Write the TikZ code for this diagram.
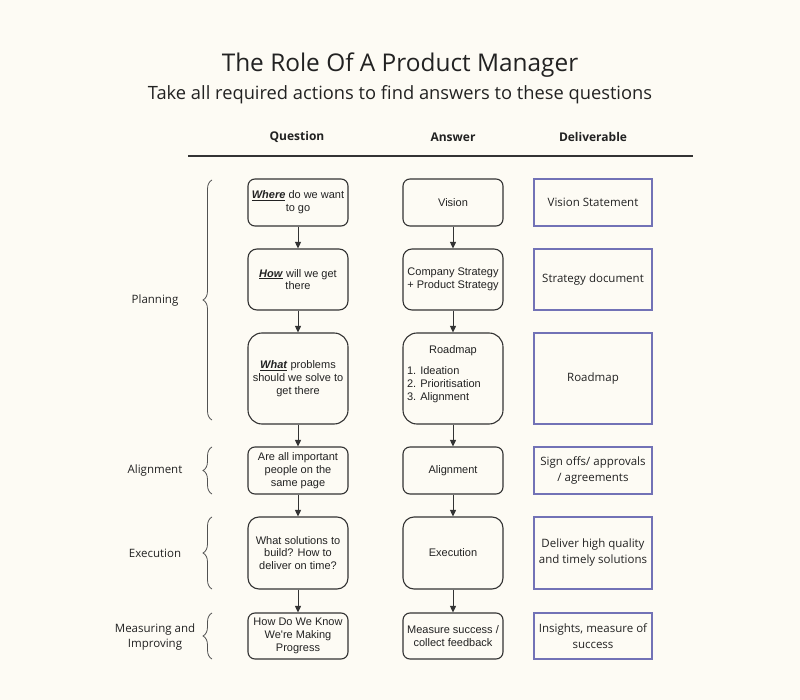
\documentclass[tikz,border=0pt]{standalone}
\usepackage{fontspec}
\setmainfont{Open Sans}
\newfontfamily\boxfont{Liberation Sans}
\usetikzlibrary{arrows.meta,decorations.pathreplacing}
\definecolor{pagecolor}{HTML}{FDFBF4}
\definecolor{inkcolor}{HTML}{222222}
\definecolor{linecolor}{HTML}{333333}
\definecolor{delivcolor}{HTML}{7272B6}
\newcommand{\keyword}[1]{\underline{\textbf{\textit{#1}}}}
\newcommand{\boxw}{100pt}
\newcommand{\delivw}{118pt}

\tikzset{
  qbox/.style={draw=linecolor, line width=1.1pt, rounded corners=7pt,
    minimum width=\boxw, inner sep=2pt, align=center, text=inkcolor,
    font=\boxfont\fontsize{11}{12.8}\selectfont},
  delivbox/.style={draw=delivcolor, line width=1.2pt,
    minimum width=\delivw, inner sep=2pt, align=center, text=inkcolor,
    font=\fontsize{11.5}{16}\selectfont},
  phaselabel/.style={align=center, text=inkcolor, font=\fontsize{11.5}{15}\selectfont},
  colhead/.style={text=inkcolor, font=\bfseries\fontsize{12}{14}\selectfont},
  flowarrow/.style={draw=linecolor, line width=0.9pt,
    -{Triangle[length=6.5pt,width=6pt]}},
  phasebrace/.style={draw=linecolor!85, line width=0.8pt, decorate,
    decoration={brace, amplitude=9pt, aspect=0.5}}
}

\begin{document}
\begin{tikzpicture}[x=1pt, y=-1pt]
\fill[pagecolor] (0,0) rectangle (800,700);
\useasboundingbox (0,0) rectangle (800,700);
% title
\node[anchor=base, text=inkcolor, font=\fontsize{24.4}{28}\selectfont] (title) at (400,72) {The Role Of A Product Manager};
\node[anchor=base, text=inkcolor, font=\fontsize{18.3}{21}\selectfont] (subtitle) at (400,100) {Take all required actions to find answers to these questions};
% column heads
\node[colhead] (hq) at (297,137) {Question};
\node[colhead] (ha) at (453,137) {Answer};
\node[colhead] (hd) at (593,137) {Deliverable};
\draw[linecolor, line width=1.2pt] (188,156) -- (693,156);
% questions
\node[qbox, minimum height=47pt] (q1) at (298,202.5) {\keyword{Where} do we want\\to go};
\node[qbox, minimum height=61pt, rounded corners=9pt] (q2) at (298,279.5) {\keyword{How} will we get\\there};
\node[qbox, minimum height=91pt, rounded corners=14pt] (q3) at (298,378.5) {\keyword{What} problems\\should we solve to\\get there};
\node[qbox, minimum height=47pt] (q4) at (298,470.5) {Are all important\\people on the\\same page};
\node[qbox, minimum height=72pt, rounded corners=11pt] (q5) at (298,553) {What solutions to\\build? How to\\deliver on time?};
\node[qbox, minimum height=46pt] (q6) at (298,636) {How Do We Know\\We're Making\\Progress};
% answers
\node[qbox, minimum height=47pt] (a1) at (453,202.5) {Vision};
\node[qbox, minimum height=61pt, rounded corners=9pt] (a2) at (453,279.5) {Company Strategy\\+ Product Strategy};
\node[qbox, minimum height=91pt, rounded corners=14pt] (a3) at (453,378.5) {\parbox{92pt}{\centering Roadmap\par\vspace{8pt}\raggedright 1. Ideation\\2. Prioritisation\\3. Alignment\par\vspace{9pt}}};
\node[qbox, minimum height=47pt] (a4) at (453,470.5) {Alignment};
\node[qbox, minimum height=72pt, rounded corners=11pt] (a5) at (453,553) {Execution};
\node[qbox, minimum height=46pt] (a6) at (453,636) {Measure success /\\collect feedback};
% deliverables
\node[delivbox, minimum height=47pt] (d1) at (593,202.5) {Vision Statement};
\node[delivbox, minimum height=61pt] (d2) at (593,279.5) {Strategy document};
\node[delivbox, minimum height=91pt] (d3) at (593,378.5) {Roadmap};
\node[delivbox, minimum height=47pt] (d4) at (593,470.5) {Sign offs/ approvals\\/ agreements};
\node[delivbox, minimum height=72pt] (d5) at (593,553) {Deliver high quality\\and timely solutions};
\node[delivbox, minimum height=46pt] (d6) at (593,636) {Insights, measure of\\success};
% flow
\foreach \i/\j in {1/2,2/3,3/4,4/5,5/6}{
  \draw[flowarrow] (q\i) -- (q\j);
  \draw[flowarrow] (a\i) -- (a\j);
}
% phases
\node[phaselabel] (planning) at (155,301) {Planning};
\node[phaselabel] (alignment) at (155,470.5) {Alignment};
\node[phaselabel] (execution) at (155,553) {Execution};
\node[phaselabel] (measuring) at (155,637) {Measuring and\\Improving};
\draw[phasebrace] (212,420) -- (212,180);
\draw[phasebrace] (212,494) -- (212,447);
\draw[phasebrace] (212,589) -- (212,517);
\draw[phasebrace] (212,659) -- (212,613);
\end{tikzpicture}
\end{document}
